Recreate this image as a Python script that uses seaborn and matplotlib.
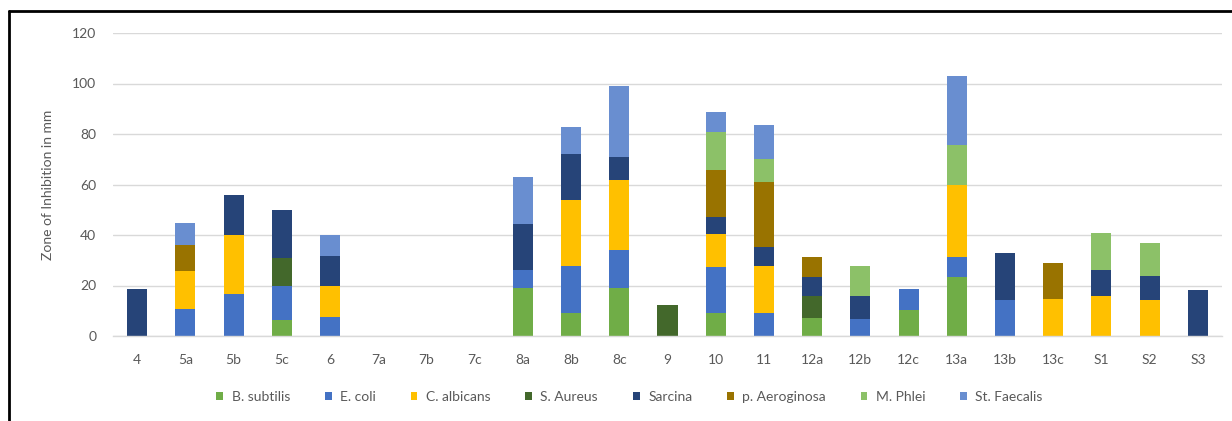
import pandas as pd
import seaborn as sns
import matplotlib.pyplot as plt
from matplotlib.patches import Patch
from matplotlib.lines import Line2D

compounds = ['4', '5a', '5b', '5c', '6', '7a', '7b', '7c', '8a', '8b', '8c', '9',
             '10', '11', '12a', '12b', '12c', '13a', '13b', '13c', 'S1', 'S2', 'S3']

# zone of inhibition (mm) per organism, one value per compound
b_subtilis = [0, 0, 0, 6.5, 0, 0, 0, 0, 18.9, 9.2, 18.9, 0, 9.2, 0, 7.1, 0, 10.2, 23.2, 0, 0, 0, 0, 0]
e_coli = [0, 10.6, 16.6, 13.2, 7.6, 0, 0, 0, 7.3, 18.6, 15.2, 0, 18.1, 9.2, 0, 6.8, 8.6, 7.9, 14.3, 0, 0, 0, 0]
c_albicans = [0, 15.3, 23.4, 0, 12.1, 0, 0, 0, 0, 25.9, 27.6, 0, 13.1, 18.7, 0, 0, 0, 28.9, 0, 14.8, 15.9, 14.3, 0]
s_aureus = [0, 0, 0, 11.3, 0, 0, 0, 0, 0, 0, 0, 12.1, 0, 0, 8.9, 0, 0, 0, 0, 0, 0, 0, 0]
sarcina = [18.5, 0, 16.0, 18.8, 11.9, 0, 0, 0, 18.1, 18.3, 9.1, 0, 6.7, 7.4, 7.3, 9.1, 0, 0, 18.5, 0, 10.2, 9.5, 18.2]
p_aeroginosa = [0, 10.0, 0, 0, 0, 0, 0, 0, 0, 0, 0, 0, 18.6, 25.8, 8.0, 0, 0, 0, 0, 14.2, 0, 0, 0]
m_phlei = [0, 0, 0, 0, 0, 0, 0, 0, 0, 0, 0, 0, 15.2, 9.1, 0, 11.8, 0, 15.7, 0, 0, 14.7, 13.1, 0]
st_faecalis = [0, 8.7, 0, 0, 8.4, 0, 0, 0, 18.6, 10.6, 28.3, 0, 7.8, 13.5, 0, 0, 0, 27.1, 0, 0, 0, 0, 0]

organisms = ['B. subtilis', 'E. coli', 'C. albicans', 'S. Aureus', 'Sarcina',
             'p. Aeroginosa', 'M. Phlei', 'St. Faecalis']
series = [b_subtilis, e_coli, c_albicans, s_aureus, sarcina, p_aeroginosa, m_phlei, st_faecalis]
colors = ['#70AD47', '#4472C4', '#FFC000', '#43682B', '#264478', '#997300', '#8CC168', '#698ED0']

rows = []
for org, vals in zip(organisms, series):
    for comp, v in zip(compounds, vals):
        rows.append({'Compound': comp, 'Organism': org, 'Zone': v})
df = pd.DataFrame(rows)

sns.set_style('white')
plt.rcParams['font.family'] = ['Lato', 'DejaVu Sans']
gray = '#595959'

fig = plt.figure(figsize=(12.32, 4.21), dpi=100)
ax = fig.add_axes([113 / 1232, 1 - 336 / 421, (1222 - 113) / 1232, (336 - 33) / 421])

# seaborn stacks the last hue level at the bottom, so pass the order reversed
sns.histplot(data=df, x='Compound', hue='Organism', weights='Zone',
             hue_order=organisms[::-1], palette=dict(zip(organisms, colors)),
             multiple='stack', discrete=True, shrink=0.415, linewidth=0,
             alpha=1, legend=False, ax=ax)

ax.set_xlim(-0.5, len(compounds) - 0.5)
ax.set_ylim(0, 120)
ax.set_yticks(range(0, 121, 20))
ax.yaxis.grid(True, color='#D9D9D9', linewidth=1)
ax.set_axisbelow(True)
for s in ['top', 'right', 'left']:
    ax.spines[s].set_visible(False)
ax.spines['bottom'].set_color('#D9D9D9')
ax.spines['bottom'].set_linewidth(1)
ax.tick_params(axis='both', length=0, labelsize=10, labelcolor=gray)
ax.tick_params(axis='x', pad=13)
ax.tick_params(axis='y', pad=12)
ax.set_xlabel('')
ax.set_ylabel('Zone of Inhibition in mm', fontsize=10, color=gray, labelpad=13)

handles = [Patch(facecolor=c, edgecolor='none') for c in colors]
fig.legend(handles, organisms, loc='center', bbox_to_anchor=(0.511, 1 - 397 / 421),
           ncol=8, frameon=False, fontsize=10, labelcolor=gray,
           handlelength=0.5, handleheight=0.5, handletextpad=0.6, columnspacing=2.5)

# black frame around the chart (top and left edges)
fig.add_artist(Line2D([9 / 1232, 1], [1 - 11 / 421, 1 - 11 / 421], color='black', linewidth=2))
fig.add_artist(Line2D([9 / 1232, 9 / 1232], [0, 1 - 11 / 421], color='black', linewidth=2))

fig.savefig('out.png', dpi=100)
